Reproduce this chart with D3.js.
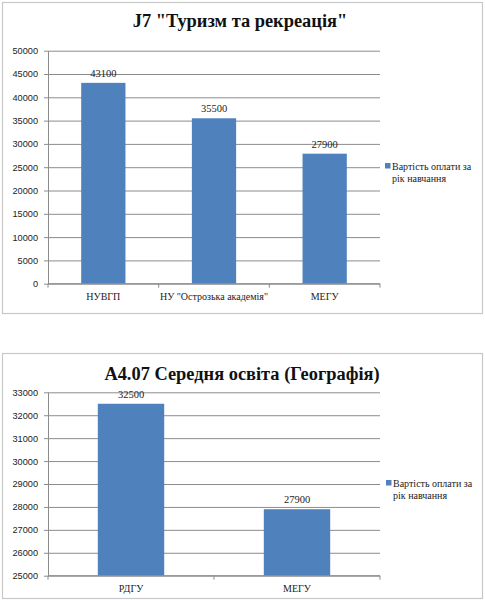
<!DOCTYPE html>
<html>
<head>
<meta charset="utf-8">
<script src="https://cdn.jsdelivr.net/npm/d3@7"></script>
<style>
  body { margin: 0; background: #fff; }
  svg { display: block; }
</style>
</head>
<body>
<div class="canvas"></div>
<script>
// chart 1: J7 "Туризм та рекреація"
const tourismTitle = 'J7 "Туризм та рекреація"'
const tourismCategories = ['НУВГП', 'НУ "Острозька академія"', 'МЕГУ']
const tourismValues = [43100, 35500, 27900]
const tourismTicks = [0, 5000, 10000, 15000, 20000, 25000, 30000, 35000, 40000, 45000, 50000]

// chart 2: А4.07 Середня освіта (Географія)
const geoTitle = 'А4.07 Середня освіта (Географія)'
const geoCategories = ['РДГУ', 'МЕГУ']
const geoValues = [32500, 27900]
const geoTicks = [25000, 26000, 27000, 28000, 29000, 30000, 31000, 32000, 33000]

const legendLines = ['Вартість оплати за', 'рік навчання']

const barColor = '#4f81bd'
const gridColor = '#8c8c8c'
const serif = '"Liberation Serif", "Times New Roman", serif'
const sans = '"Liberation Sans", Arial, sans-serif'

const svg = d3.select('.canvas')
  .append('svg')
  .attr('width', 485)
  .attr('height', 600)

function drawChart(box, title, categories, values, ticks) {
  const g = svg.append('g')

  g.append('rect')
    .attr('x', box.left + 0.5)
    .attr('y', box.top + 0.5)
    .attr('width', box.right - box.left)
    .attr('height', box.bottom - box.top)
    .attr('fill', '#fff')
    .attr('stroke', '#c8c8c8')
    .attr('stroke-width', 1.2)

  g.append('text')
    .attr('x', box.titleX)
    .attr('y', box.titleY)
    .attr('text-anchor', 'middle')
    .attr('font-family', serif)
    .attr('font-weight', 'bold')
    .attr('font-size', 18.4)
    .attr('fill', '#111')
    .text(title)

  const x = d3.scaleBand()
    .domain(categories)
    .range([box.plotLeft, box.plotRight])
    .paddingInner(0.6)
    .paddingOuter(0.3)

  const y = d3.scaleLinear()
    .domain(d3.extent(ticks))
    .range([box.plotBottom, box.plotTop])

  // horizontal gridlines + y labels
  const yAxis = d3.axisLeft(y)
    .tickValues(ticks)
    .tickFormat(d3.format('d'))
    .tickSizeInner(-(box.plotRight - box.plotLeft))
    .tickSizeOuter(0)
    .tickPadding(10)

  const yGroup = g.append('g')
    .attr('transform', `translate(${box.plotLeft}, 0)`)
    .call(yAxis)
  yGroup.select('.domain').attr('stroke', gridColor)
  yGroup.selectAll('.tick line')
    .attr('stroke', gridColor)
    .attr('x1', -4)
  yGroup.selectAll('.tick text')
    .attr('font-family', sans)
    .attr('font-size', 9.2)
    .attr('fill', '#222')

  // bars
  g.selectAll('rect.bar')
    .data(values)
    .enter()
    .append('rect')
    .attr('class', 'bar')
    .attr('x', (d, i) => x(categories[i]))
    .attr('y', d => y(d))
    .attr('width', x.bandwidth())
    .attr('height', d => box.plotBottom - y(d))
    .attr('fill', barColor)

  g.selectAll('text.value')
    .data(values)
    .enter()
    .append('text')
    .attr('class', 'value')
    .attr('x', (d, i) => x(categories[i]) + x.bandwidth() / 2)
    .attr('y', d => y(d) - 6)
    .attr('text-anchor', 'middle')
    .attr('font-family', serif)
    .attr('font-size', 10.5)
    .attr('fill', '#222')
    .text(d => d)

  // x axis with ticks between categories
  const step = x.step()
  const boundaries = d3.range(categories.length + 1).map(i => box.plotLeft + i * step)
  g.append('line')
    .attr('x1', box.plotLeft)
    .attr('x2', box.plotRight)
    .attr('y1', box.plotBottom)
    .attr('y2', box.plotBottom)
    .attr('stroke', gridColor)
  g.selectAll('line.xtick')
    .data(boundaries)
    .enter()
    .append('line')
    .attr('class', 'xtick')
    .attr('x1', d => d)
    .attr('x2', d => d)
    .attr('y1', box.plotBottom)
    .attr('y2', box.plotBottom + 4)
    .attr('stroke', gridColor)

  g.selectAll('text.cat')
    .data(categories)
    .enter()
    .append('text')
    .attr('class', 'cat')
    .attr('x', d => x(d) + x.bandwidth() / 2)
    .attr('y', box.plotBottom + 16)
    .attr('text-anchor', 'middle')
    .attr('font-family', serif)
    .attr('font-size', 10)
    .attr('fill', '#222')
    .text(d => d)

  // legend
  g.append('rect')
    .attr('x', box.legendX)
    .attr('y', box.legendY - 6.5)
    .attr('width', 5.5)
    .attr('height', 5.5)
    .attr('fill', barColor)
  g.selectAll('text.legend')
    .data(legendLines)
    .enter()
    .append('text')
    .attr('class', 'legend')
    .attr('x', box.legendX + 7)
    .attr('y', (d, i) => box.legendY + i * 12.5)
    .attr('font-family', serif)
    .attr('font-size', 10)
    .attr('fill', '#222')
    .text(d => d)
}

drawChart({
  left: 2, right: 482, top: 2, bottom: 313,
  titleX: 240, titleY: 27,
  plotLeft: 48, plotRight: 380, plotTop: 50.7, plotBottom: 283.7,
  legendX: 385, legendY: 169.5
}, tourismTitle, tourismCategories, tourismValues, tourismTicks)

drawChart({
  left: 2, right: 482, top: 353, bottom: 598,
  titleX: 242, titleY: 380,
  plotLeft: 48, plotRight: 380, plotTop: 392.3, plotBottom: 575.7,
  legendX: 386, legendY: 486.5
}, geoTitle, geoCategories, geoValues, geoTicks)
</script>
</body>
</html>
